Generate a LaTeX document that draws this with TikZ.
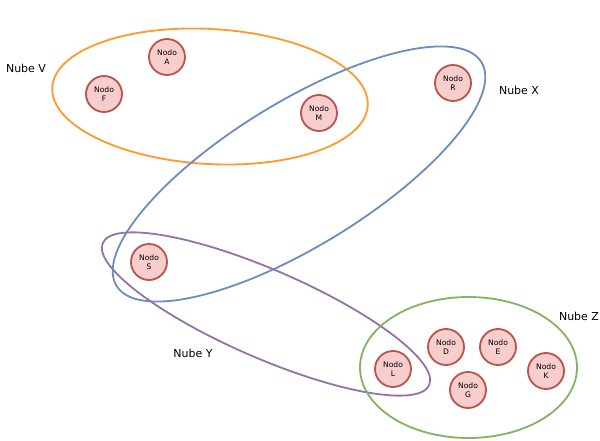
\documentclass[tikz,border=0pt]{standalone}
\usepackage{fontspec}
\setmainfont{DejaVu Sans}
\definecolor{nodofill}{HTML}{F8CECC}
\definecolor{nodoline}{HTML}{B85450}
\definecolor{nubev}{HTML}{FF9A2E}
\definecolor{nubex}{HTML}{6C8EBF}
\definecolor{nubey}{HTML}{9673A6}
\definecolor{nubez}{HTML}{82B366}
\begin{document}
\begin{tikzpicture}[
  x=0.025cm, y=-0.025cm,
  nodo/.style={circle, draw=nodoline, fill=nodofill, line width=1.3pt, minimum size=0.9cm, inner sep=0pt, align=center, font=\fontsize{5.4}{6.4}\selectfont},
  nube/.style={line width=1.3pt},
  etiqueta/.style={font=\fontsize{7.8}{9}\selectfont}
]
  \useasboundingbox (0,0) rectangle (600,441);

  % nubes
  \draw[nube, draw=nubev, rotate around={-3.3:(210,96.5)}] (210,96.5) ellipse [x radius=158, y radius=67.5];
  \draw[nube, draw=nubex, rotate around={31.5:(299,174)}] (299,174) ellipse [x radius=214, y radius=72];
  \draw[nube, draw=nubey, rotate around={-23.5:(266,314)}] (266,314) ellipse [x radius=178, y radius=44];
  \draw[nube, draw=nubez] (468.5,367.5) ellipse [x radius=108.5, y radius=70.5];

  % nodos
  \node[nodo] (A) at (167,57) {Nodo\\A};
  \node[nodo] (F) at (104,94) {Nodo\\F};
  \node[nodo] (M) at (319,113) {Nodo\\M};
  \node[nodo] (R) at (453,83) {Nodo\\R};
  \node[nodo] (S) at (149,262) {Nodo\\S};
  \node[nodo] (L) at (393,369) {Nodo\\L};
  \node[nodo] (D) at (446,347) {Nodo\\D};
  \node[nodo] (E) at (498,347) {Nodo\\E};
  \node[nodo] (G) at (468,390) {Nodo\\G};
  \node[nodo] (K) at (546,371) {Nodo\\K};

  % etiquetas
  \node[etiqueta] (nubeV) at (26,68) {Nube V};
  \node[etiqueta] (nubeX) at (519,90) {Nube X};
  \node[etiqueta] (nubeY) at (193,353) {Nube Y};
  \node[etiqueta] (nubeZ) at (579,316) {Nube Z};
\end{tikzpicture}
\end{document}
